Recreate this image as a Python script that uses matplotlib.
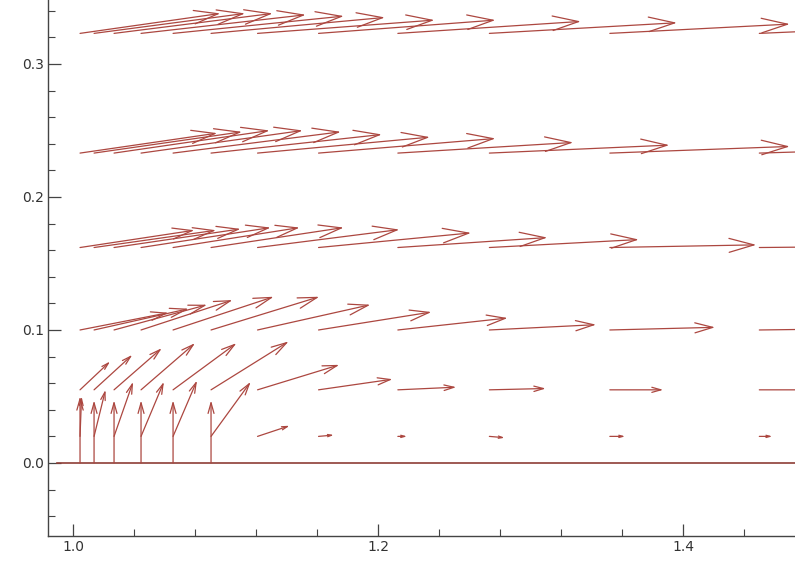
import matplotlib
matplotlib.use("Agg")
import matplotlib.pyplot as plt
from matplotlib.ticker import MultipleLocator, FormatStrFormatter
import numpy as np

# grid of arrow start points
x_cols = [1.0046, 1.0138, 1.0269, 1.0446, 1.0656, 1.0905,
          1.121, 1.161, 1.213, 1.273, 1.352, 1.450]
y_rows = [0.0, 0.02, 0.055, 0.10, 0.162, 0.233, 0.323]

# arrow components, one list per row (same order as x_cols)
u_rows = [
    [0, 0, 0, 0, 0, 0, 0, 0, 0, 0, 0, 0],
    [0.001, 0.0075, 0.0125, 0.015, 0.0157, 0.026, 0.021, 0.010, 0.006, 0.010, 0.010, 0.0085],
    [0.0197, 0.0251, 0.0313, 0.0354, 0.0416, 0.0509, 0.0536, 0.0485, 0.0383, 0.037, 0.035, 0.034],
    [0.058, 0.062, 0.061, 0.060, 0.066, 0.071, 0.074, 0.074, 0.072, 0.070, 0.069, 0.068],
    [0.075, 0.080, 0.083, 0.085, 0.083, 0.087, 0.093, 0.100, 0.098, 0.098, 0.096, 0.095],
    [0.090, 0.097, 0.102, 0.106, 0.110, 0.112, 0.113, 0.116, 0.115, 0.118, 0.118, 0.118],
    [0.092, 0.099, 0.104, 0.108, 0.112, 0.114, 0.116, 0.116, 0.120, 0.123, 0.118, 0.120],
]
v_rows = [
    [0.050, 0.047, 0.047, 0.047, 0.047, 0.047, 0, 0, 0, 0, 0, 0],
    [0.030, 0.035, 0.041, 0.041, 0.042, 0.041, 0.008, 0.001, 0.0, -0.001, 0.0, 0.0],
    [0.0213, 0.0263, 0.0313, 0.0351, 0.0351, 0.0364, 0.0188, 0.008, 0.002, 0.001, 0.0, 0.0],
    [0.013, 0.016, 0.019, 0.0225, 0.025, 0.025, 0.019, 0.0135, 0.009, 0.004, 0.002, 0.001],
    [0.013, 0.013, 0.014, 0.015, 0.015, 0.015, 0.0135, 0.011, 0.0075, 0.006, 0.002, 0.001],
    [0.015, 0.016, 0.017, 0.017, 0.016, 0.014, 0.012, 0.011, 0.008, 0.006, 0.005, 0.004],
    [0.015, 0.015, 0.015, 0.014, 0.013, 0.012, 0.010, 0.010, 0.009, 0.008, 0.007, 0.006],
]

arrow_color = "#ac4740"
axis_color = "#444444"

fig = plt.figure(figsize=(7.95, 5.72), dpi=100)
ax = fig.add_axes([48 / 795, 36 / 572, 747 / 795, 536 / 572])
ax.set_xlim(0.9836, 1.4734)
ax.set_ylim(-0.0549, 0.3481)

ax.axhline(0, xmin=0.012, xmax=1, color="#8e3d36", lw=1.2)

for y0, us, vs in zip(y_rows, u_rows, v_rows):
    for x0, du, dv in zip(x_cols, us, vs):
        if du == 0 and dv == 0:
            continue
        p0 = ax.transData.transform((x0, y0))
        p1 = ax.transData.transform((x0 + du, y0 + dv))
        length_px = np.hypot(*(p1 - p0))
        head = np.clip(0.17 * length_px, 4, 26) * 0.72
        style = f"->,head_length={head:.2f},head_width={head * 0.28:.2f}"
        ax.annotate("", xy=(x0 + du, y0 + dv), xytext=(x0, y0),
                    arrowprops=dict(arrowstyle=style, color=arrow_color, lw=0.9,
                                    shrinkA=0, shrinkB=0, mutation_scale=1),
                    annotation_clip=False)

ax.spines["top"].set_visible(False)
ax.spines["right"].set_visible(False)
for s in ("left", "bottom"):
    ax.spines[s].set_color(axis_color)
    ax.spines[s].set_linewidth(1.0)

ax.xaxis.set_major_locator(MultipleLocator(0.2))
ax.xaxis.set_minor_locator(MultipleLocator(0.04))
ax.yaxis.set_major_locator(MultipleLocator(0.1))
ax.yaxis.set_minor_locator(MultipleLocator(0.02))
ax.xaxis.set_major_formatter(FormatStrFormatter("%.1f"))
ax.yaxis.set_major_formatter(FormatStrFormatter("%.1f"))
ax.tick_params(which="both", direction="in", colors=axis_color,
               labelcolor="#333333", labelsize=10, pad=3)
ax.tick_params(which="major", length=9, width=0.9)
ax.tick_params(which="minor", length=5, width=0.8)

fig.savefig("out.png", dpi=100)
